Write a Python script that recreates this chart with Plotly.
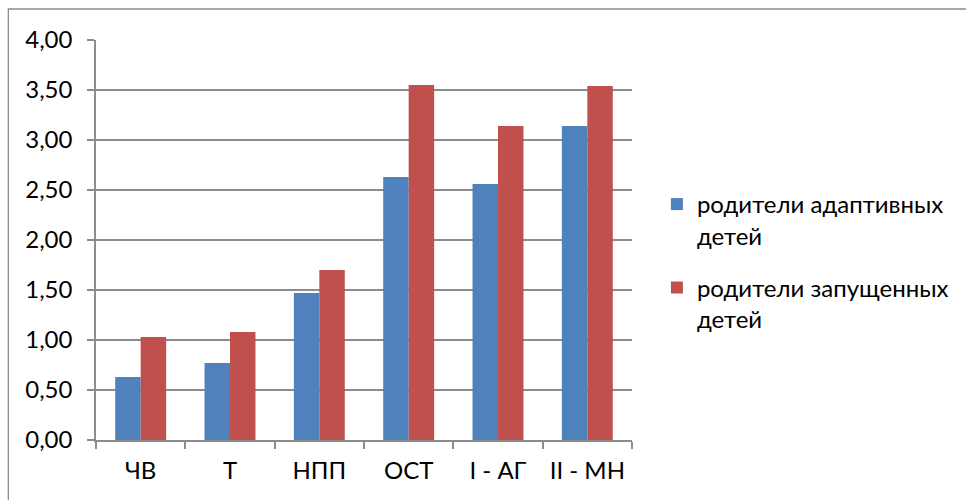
import plotly.graph_objects as go

# Scale categories and mean scores for the two parent groups
categories = ["ЧВ", "Т", "НПП", "ОСТ", "I - АГ", "II - МН"]
adaptive_parents = [0.63, 0.77, 1.47, 2.63, 2.56, 3.14]
neglected_parents = [1.03, 1.08, 1.70, 3.55, 3.14, 3.54]
series_names = ["родители адаптивных<br>детей", "родители запущенных<br>детей"]
y_ticks = [0.0, 0.5, 1.0, 1.5, 2.0, 2.5, 3.0, 3.5, 4.0]

BLUE = "#4F81BD"
RED = "#C0504D"
GRID = "#8c8c8c"
FONT = "Lato"
FS = 24

fig = go.Figure()
fig.add_trace(go.Bar(x=categories, y=adaptive_parents, name=series_names[0],
                     marker=dict(color=BLUE, line=dict(width=0)),
                     legendgroup="a"))
fig.add_trace(go.Bar(x=categories, y=neglected_parents, name=series_names[1],
                     marker=dict(color=RED, line=dict(width=0)),
                     legendgroup="b"))

# plot area spans x 96..634, y 40..440 px
L, R, T, B = 96, 332, 40, 60
W, H = 966 - L - R, 500 - T - B

fig.update_layout(
    width=966, height=500,
    margin=dict(l=L, r=R, t=T, b=B),
    paper_bgcolor="white", plot_bgcolor="white",
    separators=", ",
    barmode="group", bargap=0.43, bargroupgap=0.0,
    font=dict(family=FONT, size=FS, color="#000000"),
    legend=dict(
        x=(659 - L) / W, xanchor="left",
        y=1 - (182 - T) / H, yanchor="top",
        valign="top", tracegroupgap=18, itemwidth=30,
        font=dict(family=FONT, size=FS, color="#000000"),
        bgcolor="rgba(0,0,0,0)",
    ),
    xaxis=dict(
        type="category", showgrid=False,
        showline=True, linecolor=GRID, linewidth=1.5,
        ticks="outside", ticklen=7, tickcolor=GRID, tickwidth=1.5,
        tickson="boundaries", ticklabelstandoff=8,
        tickfont=dict(family=FONT, size=FS),
    ),
    yaxis=dict(
        range=[0, 4.0], tickvals=y_ticks, tickformat=".2f",
        showgrid=True, gridcolor=GRID, gridwidth=1.5,
        showline=True, linecolor=GRID, linewidth=1.5,
        ticks="outside", ticklen=7, tickcolor=GRID, tickwidth=1.5,
        ticklabelstandoff=10, zeroline=False,
        tickfont=dict(family=FONT, size=FS),
    ),
    shapes=[dict(
        type="rect", xref="paper", yref="paper",
        x0=(8 - L) / W, x1=(1000 - L) / W,
        y0=1 - (540 - T) / H, y1=1 + (T - 9) / H,
        line=dict(color=GRID, width=1.3), fillcolor="rgba(0,0,0,0)",
        layer="below",
    )],
)

fig.write_html("out.html")
